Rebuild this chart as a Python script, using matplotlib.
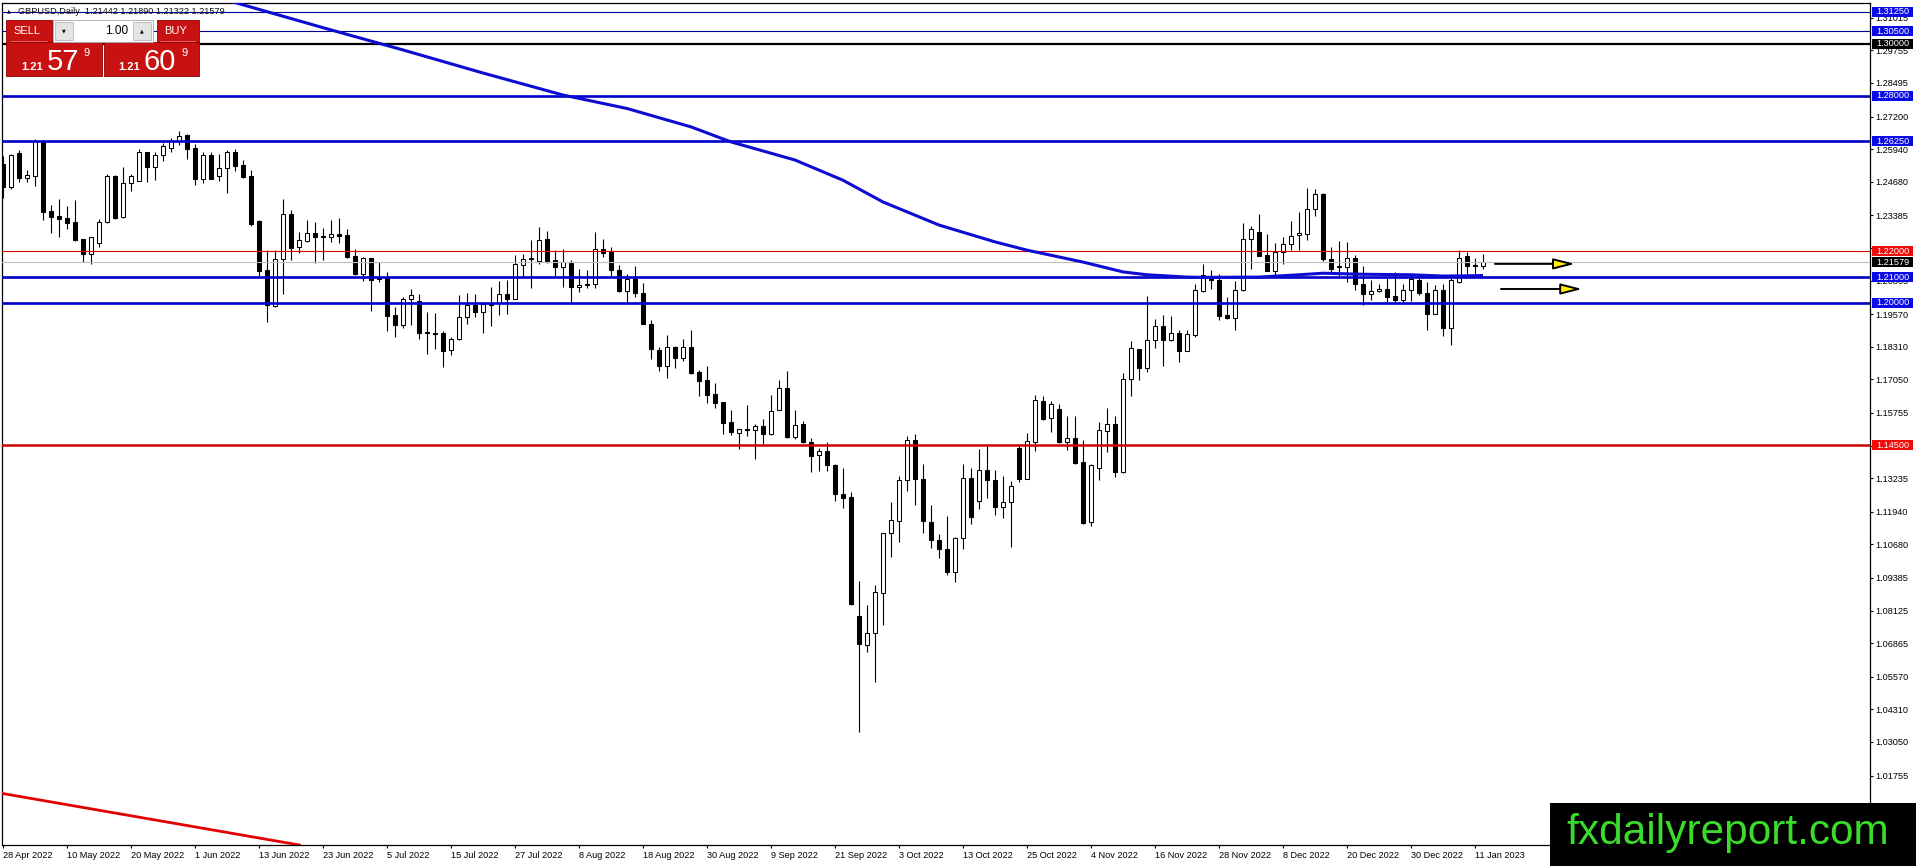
import matplotlib
matplotlib.use("Agg")
import matplotlib.pyplot as plt
import matplotlib.transforms as mtransforms
from matplotlib.patches import Rectangle

plt.rcParams['font.family'] = ['Liberation Sans', 'DejaVu Sans']

# ---------------- data ----------------
symbol_title = "GBPUSD,Daily  1.21442 1.21890 1.21322 1.21579"

date_labels = ["28 Apr 2022", "10 May 2022", "20 May 2022", "1 Jun 2022", "13 Jun 2022",
               "23 Jun 2022", "5 Jul 2022", "15 Jul 2022", "27 Jul 2022", "8 Aug 2022",
               "18 Aug 2022", "30 Aug 2022", "9 Sep 2022", "21 Sep 2022", "3 Oct 2022",
               "13 Oct 2022", "25 Oct 2022", "4 Nov 2022", "16 Nov 2022", "28 Nov 2022",
               "8 Dec 2022", "20 Dec 2022", "30 Dec 2022", "11 Jan 2023"]
date_label_step = 8  # bars between date labels

opens = [1.2538, 1.2448, 1.2580, 1.2484, 1.2490, 1.2625, 1.2355, 1.2335, 1.2327, 1.2311,
         1.2246, 1.2190, 1.2233, 1.2313, 1.2489, 1.2332, 1.2465, 1.2471, 1.2582, 1.2525,
         1.2570, 1.2600, 1.2625, 1.2647, 1.2597, 1.2480, 1.2570, 1.2489, 1.2523, 1.2583,
         1.2532, 1.2489, 1.2315, 1.2126, 1.1987, 1.2171, 1.2345, 1.2216, 1.2239, 1.2272,
         1.2257, 1.2255, 1.2265, 1.2261, 1.2180, 1.2113, 1.2172, 1.2095, 1.2100, 1.1952,
         1.1915, 1.2017, 1.2006, 1.1887, 1.1882, 1.1884, 1.1817, 1.1860, 1.1946, 1.1991,
         1.1965, 1.1993, 1.2001, 1.2036, 1.2017, 1.2148, 1.2170, 1.2162, 1.2246, 1.2165,
         1.2139, 1.2154, 1.2062, 1.2075, 1.2075, 1.2210, 1.2197, 1.2126, 1.2046, 1.2091,
         1.2040, 1.1920, 1.1817, 1.1757, 1.1830, 1.1788, 1.1830, 1.1732, 1.1701, 1.1647,
         1.1616, 1.1539, 1.1499, 1.1512, 1.1511, 1.1526, 1.1495, 1.1588, 1.1673, 1.1483,
         1.1534, 1.1463, 1.1413, 1.1429, 1.1375, 1.1262, 1.1252, 1.0792, 1.0679, 1.0725,
         1.0882, 1.1112, 1.1160, 1.1315, 1.1472, 1.1321, 1.1154, 1.1086, 1.1050, 1.0960,
         1.1092, 1.1324, 1.1235, 1.1355, 1.1317, 1.1211, 1.1231, 1.1440, 1.1322, 1.1465,
         1.1620, 1.1556, 1.1592, 1.1462, 1.1478, 1.1387, 1.1153, 1.1364, 1.1506, 1.1534,
         1.1347, 1.1708, 1.1821, 1.1749, 1.1858, 1.1910, 1.1858, 1.1885, 1.1815, 1.1878,
         1.2046, 1.2106, 1.2088, 1.1952, 1.1943, 1.2051, 1.2248, 1.2273, 1.2184, 1.2125,
         1.2197, 1.2229, 1.2261, 1.2268, 1.2362, 1.2422, 1.2171, 1.2139, 1.2139, 1.2175,
         1.2075, 1.2036, 1.2045, 1.2055, 1.2026, 1.2013, 1.2049, 1.2088, 1.2040, 1.1959,
         1.2049, 1.1905, 1.2081, 1.2180, 1.2146, 1.21442]
highs = [1.2566, 1.2577, 1.2592, 1.2512, 1.2634, 1.2631, 1.2377, 1.2403, 1.2373, 1.2396,
         1.2248, 1.2255, 1.2326, 1.2499, 1.2493, 1.2525, 1.2497, 1.2596, 1.2583, 1.2583,
         1.2618, 1.2638, 1.2664, 1.2651, 1.2613, 1.2583, 1.2583, 1.2574, 1.2592, 1.2596,
         1.2553, 1.2515, 1.2319, 1.2203, 1.2203, 1.2403, 1.2358, 1.2274, 1.2322, 1.2313,
         1.2291, 1.2319, 1.2329, 1.2287, 1.2210, 1.2178, 1.2172, 1.2158, 1.2120, 1.1985,
         1.2023, 1.2053, 1.2036, 1.1965, 1.1963, 1.1892, 1.1869, 1.2030, 1.2039, 1.2033,
         1.1995, 1.2062, 1.2085, 1.2088, 1.2184, 1.2188, 1.2242, 1.2293, 1.2278, 1.2203,
         1.2210, 1.2165, 1.2133, 1.2126, 1.2274, 1.2246, 1.2216, 1.2145, 1.2113, 1.2142,
         1.2077, 1.1933, 1.1830, 1.1875, 1.1833, 1.1860, 1.1897, 1.1740, 1.1755, 1.1691,
         1.1618, 1.1586, 1.1515, 1.1605, 1.1534, 1.1553, 1.1644, 1.1704, 1.1736, 1.1588,
         1.1543, 1.1478, 1.1440, 1.1462, 1.1379, 1.1362, 1.1269, 1.0927, 1.0835, 1.0911,
         1.1112, 1.1231, 1.1333, 1.1487, 1.1495, 1.1378, 1.1220, 1.1108, 1.1178, 1.1096,
         1.1378, 1.1364, 1.1436, 1.1455, 1.1355, 1.1333, 1.1314, 1.1455, 1.1498, 1.1645,
         1.1642, 1.1620, 1.1611, 1.1565, 1.1565, 1.1470, 1.1379, 1.1541, 1.1595, 1.1562,
         1.1730, 1.1852, 1.1824, 1.2026, 1.1940, 1.1952, 1.1950, 1.1894, 1.1897, 1.2075,
         1.2149, 1.2126, 1.2111, 1.2023, 1.2084, 1.2309, 1.2296, 1.2342, 1.2265, 1.2232,
         1.2255, 1.2317, 1.2351, 1.2444, 1.2441, 1.2425, 1.2216, 1.2239, 1.2236, 1.2184,
         1.2142, 1.2088, 1.2075, 1.2098, 1.2120, 1.2072, 1.2107, 1.2100, 1.2081, 1.2068,
         1.2075, 1.2103, 1.2206, 1.2197, 1.2175, 1.21890]
lows = [1.2407, 1.2440, 1.2467, 1.2467, 1.2452, 1.2322, 1.2270, 1.2255, 1.2287, 1.2239,
        1.2158, 1.2152, 1.2216, 1.2309, 1.2326, 1.2330, 1.2432, 1.2471, 1.2467, 1.2474,
        1.2548, 1.2583, 1.2609, 1.2557, 1.2454, 1.2463, 1.2478, 1.2471, 1.2425, 1.2510,
        1.2484, 1.2296, 1.2103, 1.1927, 1.1985, 1.2036, 1.2165, 1.2193, 1.2236, 1.2154,
        1.2165, 1.2236, 1.2232, 1.2175, 1.2107, 1.2085, 1.1969, 1.2081, 1.1892, 1.1869,
        1.1905, 1.1914, 1.1862, 1.1804, 1.1824, 1.1753, 1.1798, 1.1856, 1.1920, 1.1946,
        1.1884, 1.1910, 1.1952, 1.1956, 1.2015, 1.2100, 1.2058, 1.2152, 1.2154, 1.2103,
        1.2062, 1.2000, 1.2042, 1.2058, 1.2058, 1.2178, 1.2103, 1.2042, 1.2000, 1.2023,
        1.1918, 1.1785, 1.1736, 1.1710, 1.1750, 1.1776, 1.1727, 1.1641, 1.1615, 1.1596,
        1.1495, 1.1490, 1.1436, 1.1486, 1.1399, 1.1457, 1.1492, 1.1586, 1.1480, 1.1476,
        1.1459, 1.1346, 1.1350, 1.1353, 1.1234, 1.1207, 1.0834, 1.0342, 1.0651, 1.0535,
        1.0758, 1.1021, 1.1079, 1.1276, 1.1221, 1.1112, 1.1054, 1.1015, 1.0948, 1.0921,
        1.1052, 1.1148, 1.1205, 1.1249, 1.1180, 1.1168, 1.1056, 1.1307, 1.1320, 1.1427,
        1.1547, 1.1500, 1.1459, 1.1433, 1.1379, 1.1147, 1.1140, 1.1315, 1.1425, 1.1328,
        1.1345, 1.1641, 1.1701, 1.1734, 1.1826, 1.1755, 1.1853, 1.1771, 1.1813, 1.1869,
        1.2042, 1.2055, 1.1936, 1.1940, 1.1894, 1.2046, 1.2133, 1.2180, 1.2122, 1.2107,
        1.2152, 1.2203, 1.2203, 1.2242, 1.2336, 1.2162, 1.2120, 1.2100, 1.2081, 1.2049,
        1.1991, 1.2013, 1.2042, 1.2004, 1.2004, 1.2004, 1.2008, 1.2030, 1.1897, 1.1956,
        1.1871, 1.1837, 1.2077, 1.2111, 1.2113, 1.21322]
closes = [1.2448, 1.2570, 1.2484, 1.2493, 1.2625, 1.2351, 1.2332, 1.2326, 1.2309, 1.2245,
          1.2190, 1.2255, 1.2313, 1.2489, 1.2329, 1.2465, 1.2489, 1.2582, 1.2525, 1.2570,
          1.2605, 1.2625, 1.2646, 1.2596, 1.2477, 1.2570, 1.2480, 1.2523, 1.2583, 1.2529,
          1.2486, 1.2304, 1.2124, 1.1991, 1.2171, 1.2345, 1.2212, 1.2242, 1.2272, 1.2255,
          1.2255, 1.2268, 1.2260, 1.2178, 1.2111, 1.2172, 1.2090, 1.2093, 1.1950, 1.1914,
          1.2017, 1.2030, 1.1885, 1.1884, 1.1884, 1.1815, 1.1860, 1.1946, 1.1991, 1.1965,
          1.1995, 1.1997, 1.2036, 1.2014, 1.2149, 1.2171, 1.2174, 1.2245, 1.2162, 1.2139,
          1.2157, 1.2062, 1.2071, 1.2070, 1.2210, 1.2194, 1.2126, 1.2046, 1.2091, 1.2039,
          1.1920, 1.1822, 1.1757, 1.1830, 1.1788, 1.1830, 1.1730, 1.1699, 1.1646, 1.1615,
          1.1538, 1.1503, 1.1512, 1.1510, 1.1526, 1.1495, 1.1582, 1.1673, 1.1483, 1.1530,
          1.1462, 1.1411, 1.1428, 1.1373, 1.1261, 1.1249, 1.0836, 1.0682, 1.0725, 1.0884,
          1.1112, 1.1163, 1.1317, 1.1471, 1.1319, 1.1157, 1.1084, 1.1050, 1.0960, 1.1093,
          1.1324, 1.1172, 1.1355, 1.1316, 1.1211, 1.1231, 1.1293, 1.1322, 1.1467, 1.1625,
          1.1554, 1.1610, 1.1462, 1.1478, 1.1384, 1.1150, 1.1374, 1.1508, 1.1534, 1.1347,
          1.1708, 1.1828, 1.1749, 1.1858, 1.1910, 1.1858, 1.1884, 1.1815, 1.1879, 1.2049,
          1.2109, 1.2088, 1.1950, 1.1942, 1.2051, 1.2248, 1.2287, 1.2181, 1.2125, 1.2197,
          1.2229, 1.2260, 1.2270, 1.2362, 1.2422, 1.2171, 1.2130, 1.2144, 1.2175, 1.2075,
          1.2036, 1.2045, 1.2055, 1.2023, 1.2013, 1.2049, 1.2091, 1.2040, 1.1959, 1.2049,
          1.1905, 1.2088, 1.2175, 1.2144, 1.2144, 1.21579]

# moving average (read at selected bars)
ma_index = [24, 28, 40, 50, 60, 70, 78, 86, 91, 99, 105, 110, 117, 124, 128, 135,
            140, 143, 148, 150, 157, 162, 165, 170, 176, 180, 185]
ma_value = [1.3204, 1.3169, 1.3063, 1.2977, 1.2888, 1.2803, 1.2751, 1.2680, 1.2622, 1.2552,
            1.2474, 1.2390, 1.2301, 1.2236, 1.2204, 1.2158, 1.2120, 1.2109, 1.2100, 1.2099,
            1.2100, 1.2109, 1.2115, 1.2111, 1.2109, 1.2104, 1.2106]

# horizontal levels
level_prices = [1.3125, 1.3050, 1.3000, 1.2800, 1.2625, 1.2200, 1.2100, 1.2000, 1.1450]
level_colors = ['#000096', '#000096', '#000000', '#0000C8', '#0000C8', '#E00000',
                '#0000C8', '#0000C8', '#D00000']
level_widths = [0.8, 0.8, 1.6, 1.9, 1.9, 0.8, 1.9, 1.9, 1.8]
level_label_bg = ['#0A0AE6', '#0A0AE6', '#000000', '#0A0AE6', '#0A0AE6', '#F00A0A',
                  '#0A0AE6', '#0A0AE6', '#F00A0A']
bid_price = 1.21579

# trend line (two points read on the picture)
trend_index = [-0.4, 37.1]
trend_price = [1.0108, 0.9907]

# arrows (bar index start/end and price)
arrow_start = [186.5, 187.25]
arrow_end = [196.5, 197.4]
arrow_price = [1.2151, 1.2054]

# price scale ticks; the ones drawn under a level label carry no visible text
ytick_values = [1.31015, 1.29755, 1.28495, 1.27200, 1.25940, 1.24680, 1.23385, 1.22125,
                1.20865, 1.19570, 1.18310, 1.17050, 1.15755, 1.14495, 1.13235, 1.11940,
                1.10680, 1.09385, 1.08125, 1.06865, 1.05570, 1.04310, 1.03050, 1.01755]
ytick_hidden = [1.22125, 1.14495]

# ---------------- figure ----------------
W, H = 1916, 866
fig = plt.figure(figsize=(W / 100, H / 100), dpi=100)
fig.patch.set_facecolor('white')

ax_l, ax_r, ax_t, ax_b = 2, 1870, 3, 845
ax = fig.add_axes([ax_l / W, (H - ax_b) / H, (ax_r - ax_l) / W, (ax_b - ax_t) / H])
ax.set_facecolor('white')
ax.set_xlim(-0.125, 233.375)
ax.set_ylim(0.99073, 1.31583)

for s in ax.spines.values():
    s.set_color('black')
    s.set_linewidth(0.9)

# candles
n = len(opens)
xs = list(range(n))
ax.vlines(xs, lows, highs, color='black', linewidth=0.8, zorder=3)
bottoms = [min(o, c) for o, c in zip(opens, closes)]
heights = [abs(c - o) for o, c in zip(opens, closes)]
faces = ['white' if c >= o else 'black' for o, c in zip(opens, closes)]
ax.bar(xs, heights, bottom=bottoms, width=0.56, color=faces, edgecolor='black',
       linewidth=0.75, zorder=4)

# levels
ax.axhline(bid_price, color='#BEBEBE', linewidth=0.8, zorder=5)
for p, c, w in zip(level_prices, level_colors, level_widths):
    ax.axhline(p, color=c, linewidth=w, zorder=6)

# moving average
ax.plot(ma_index, ma_value, color='#0C0CD2', linewidth=2.2, zorder=7, solid_capstyle='butt')

# trend line
ax.axline((trend_index[0], trend_price[0]), (trend_index[1], trend_price[1]),
          color='#E00000', linewidth=2.0, zorder=6)

# arrows
for x0, x1, p in zip(arrow_start, arrow_end, arrow_price):
    ax.annotate('', xy=(x1, p), xytext=(x0, p),
                arrowprops=dict(arrowstyle='-|>,head_length=1.3,head_width=0.33',
                                fc='#FFF200', ec='black', lw=1.4,
                                shrinkA=0, shrinkB=0, mutation_scale=10),
                zorder=8)

# axes ticks
ax.yaxis.tick_right()
ax.set_yticks(ytick_values)
ax.set_yticklabels(['' if v in ytick_hidden else f"{v:.5f}" for v in ytick_values])
ax.tick_params(axis='y', direction='out', length=2.4, width=0.8, pad=1.4,
               labelsize=6.6, colors='black')
ax.set_xticks(list(range(0, n, date_label_step))[:len(date_labels)])
ax.set_xticklabels(date_labels)
for lab in ax.get_xticklabels():
    lab.set_horizontalalignment('left')
ax.tick_params(axis='x', direction='out', length=2.4, width=0.8, pad=1.6,
               labelsize=6.6, colors='black')

# price labels on the right
bt = mtransforms.blended_transform_factory(ax.transAxes, ax.transData)
axw = ax_r - ax_l
box_x0 = (1872 - ax_l) / axw
box_w = 41 / axw
box_h = 10 / 2590
text_x = (1876 - ax_l) / axw
all_lab_prices = level_prices + [bid_price]
all_lab_bg = level_label_bg + ['#000000']
for p, bg in zip(all_lab_prices, all_lab_bg):
    ax.add_patch(Rectangle((box_x0, p - box_h / 2), box_w, box_h, transform=bt,
                           facecolor=bg, edgecolor='none', clip_on=False, zorder=20))
    ax.text(text_x, p, f"{p:.5f}", transform=bt, ha='left', va='center',
            fontsize=6.6, color='white', clip_on=False, zorder=21)

# ---------------- overlay: trade panel + watermark ----------------
ui = fig.add_axes([0, 0, 1, 1])
ui.set_xlim(0, W)
ui.set_ylim(H, 0)
ui.axis('off')

ui.text(8.5, 11, '\u25b2', fontsize=3.5, ha='center', va='center', color='black',
        family=['DejaVu Sans'])
ui.text(18, 11.5, symbol_title, fontsize=6.6, ha='left', va='center', color='#101010')

red = '#C81212'
dark = '#8E0000'
ui.add_patch(Rectangle((6, 20), 46, 22, facecolor=red, edgecolor=dark, linewidth=0.6))
ui.add_patch(Rectangle((157, 20), 42, 22, facecolor=red, edgecolor=dark, linewidth=0.6))
ui.add_patch(Rectangle((6, 42), 96, 34, facecolor=red, edgecolor=dark, linewidth=0.6))
ui.add_patch(Rectangle((104, 42), 95, 34, facecolor=red, edgecolor=dark, linewidth=0.6))
ui.plot([10, 47], [41, 41], color='#E87070', linewidth=0.6)
ui.plot([160, 195], [41, 41], color='#E87070', linewidth=0.6)
ui.add_patch(Rectangle((53, 20), 100, 22, facecolor='white', edgecolor='#A8A8A8', linewidth=0.6))
ui.add_patch(Rectangle((55, 22), 18, 18, facecolor='#E4E4E4', edgecolor='#B0B0B0', linewidth=0.5))
ui.add_patch(Rectangle((133, 22), 18, 18, facecolor='#E4E4E4', edgecolor='#B0B0B0', linewidth=0.5))
ui.text(64, 31, '\u25bc', fontsize=3.5, ha='center', va='center', color='black',
        family=['DejaVu Sans'])
ui.text(142, 30.5, '\u25b2', fontsize=3.5, ha='center', va='center', color='black',
        family=['DejaVu Sans'])
ui.text(128, 30.5, '1.00', fontsize=8.5, ha='right', va='center', color='black')
ui.text(27, 31, 'SELL', fontsize=8, ha='center', va='center', color='white')
ui.text(176, 31, 'BUY', fontsize=8, ha='center', va='center', color='white')

ui.text(21, 70, '1.21', fontsize=8, ha='left', va='baseline', color='white', fontweight='bold')
ui.text(47, 70, '57', fontsize=21, ha='left', va='baseline', color='white')
ui.text(84, 56, '9', fontsize=8, ha='left', va='baseline', color='white')
ui.text(118, 70, '1.21', fontsize=8, ha='left', va='baseline', color='white', fontweight='bold')
ui.text(144, 70, '60', fontsize=21, ha='left', va='baseline', color='white')
ui.text(182, 56, '9', fontsize=8, ha='left', va='baseline', color='white')

ui.add_patch(Rectangle((1550, 803), 366, 63, facecolor='black', edgecolor='none'))
ui.text(1728, 844, 'fxdailyreport.com', fontsize=30.5, ha='center', va='baseline',
        color='#3BDB2B')

fig.savefig('out.png', dpi=100)
